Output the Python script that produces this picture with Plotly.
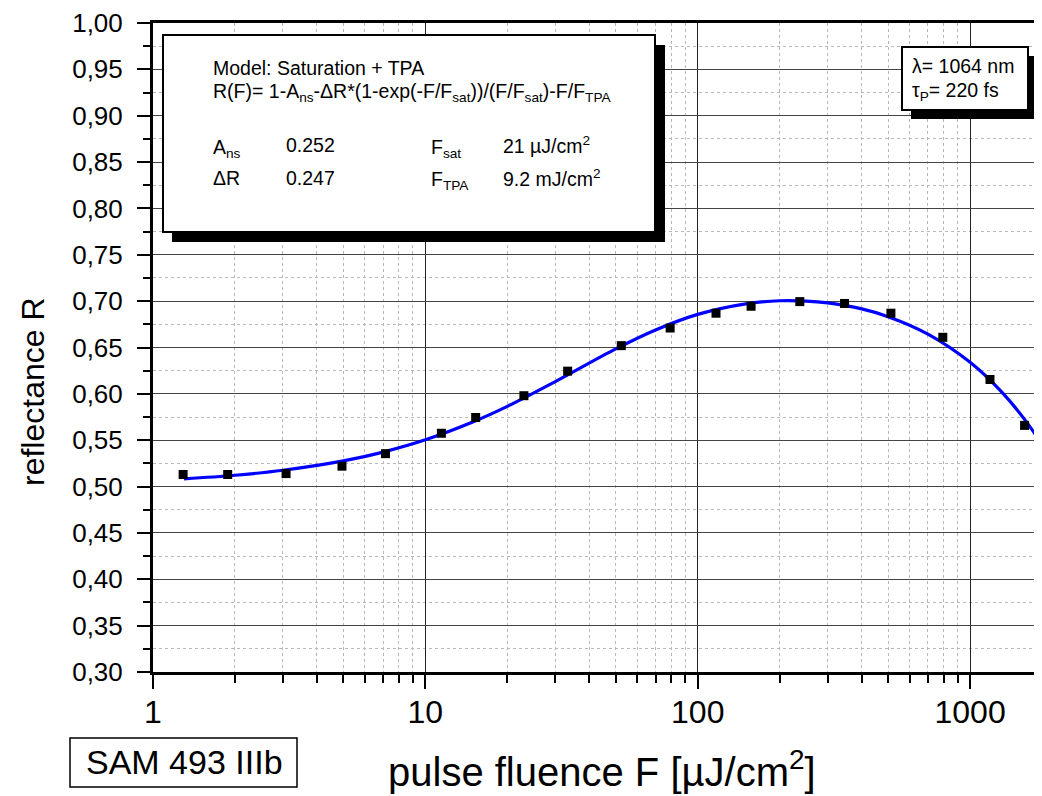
import plotly.graph_objects as go

# ---------------- data ----------------
fluence = [1.29, 1.88, 3.08, 4.94, 7.14, 11.45, 15.3, 23.0, 33.3, 52.4, 79.2,
           116.7, 157, 237, 346, 512, 794, 1183, 1585]
reflectance = [0.513, 0.513, 0.514, 0.522, 0.5355, 0.5575, 0.5745, 0.598, 0.6245,
               0.652, 0.671, 0.687, 0.6945, 0.6995, 0.6975, 0.687, 0.661, 0.6155, 0.566]

fit_fluence = [1.3, 2, 3, 5, 7, 10, 15, 20, 30, 50, 70, 100, 150, 200, 250, 300,
               400, 500, 700, 1000, 1300, 1600, 1900]
fit_reflectance = [0.5083, 0.5122, 0.5176, 0.5277, 0.5372, 0.5504, 0.5699, 0.5865,
                   0.6132, 0.6485, 0.6689, 0.6857, 0.6971, 0.7004, 0.7001, 0.6981,
                   0.6916, 0.6833, 0.6645, 0.6341, 0.6027, 0.5709, 0.5388]

x_tick_vals = [1, 10, 100, 1000]
x_tick_text = ["1", "10", "100", "1000"]
y_tick_vals = [0.30, 0.35, 0.40, 0.45, 0.50, 0.55, 0.60, 0.65, 0.70, 0.75, 0.80,
               0.85, 0.90, 0.95, 1.00]
y_tick_text = ["0,30", "0,35", "0,40", "0,45", "0,50", "0,55", "0,60", "0,65",
               "0,70", "0,75", "0,80", "0,85", "0,90", "0,95", "1,00"]

# ---------------- layout helpers (page pixel coords) ----------------
OFF = 8                      # default page body margin
PAGE_W, PAGE_H = 1042, 796
L, R, T, B = 153, 1042, 23, 672
W, H = PAGE_W - OFF, PAGE_H - OFF


def px(p):
    return (p - L) / (R - L)


def py(p):
    return (B - p) / (B - T)


FONT = "Arial, Liberation Sans, Helvetica, sans-serif"

fig = go.Figure()
fig.add_trace(go.Scatter(
    x=fit_fluence, y=fit_reflectance, mode="lines",
    line=dict(color="#0000ff", width=3.2, shape="spline", smoothing=1.0),
    hoverinfo="skip", showlegend=False))
fig.add_trace(go.Scatter(
    x=fluence, y=reflectance, mode="markers",
    marker=dict(symbol="square", size=9, color="black"),
    showlegend=False))

minor_x = [m * d for d in (1, 10, 100, 1000) for m in range(2, 10)]

fig.update_xaxes(
    type="log", range=[0, 3.264],
    tickvals=x_tick_vals, ticktext=x_tick_text,
    ticks="outside", ticklen=14, tickwidth=2, tickcolor="black",
    ticklabelstandoff=-4,
    showline=True, linewidth=3, linecolor="black", mirror=True,
    showgrid=True, gridcolor="#222222", gridwidth=1,
    tickfont=dict(family=FONT, size=32, color="black"),
    minor=dict(tickvals=minor_x, ticks="outside", ticklen=8, tickwidth=2,
               tickcolor="black", showgrid=True, gridcolor="#b8b8b8",
               griddash="dot", gridwidth=1),
    zeroline=False,
)
fig.update_yaxes(
    range=[0.30, 1.00],
    tickvals=y_tick_vals, ticktext=y_tick_text,
    ticks="outside", ticklen=13, tickwidth=2, tickcolor="black",
    ticklabelstandoff=9,
    showline=True, linewidth=3, linecolor="black",
    showgrid=True, gridcolor="#444444", gridwidth=1,
    tickfont=dict(family=FONT, size=26, color="black"),
    minor=dict(dtick=0.025, ticks="outside", ticklen=7, tickwidth=2,
               tickcolor="black", showgrid=True, gridcolor="#b8b8b8",
               griddash="dot", gridwidth=1),
    zeroline=False,
)

shapes = []


def rect(x0, y0, x1, y1, fill, lw=2):
    shapes.append(dict(type="rect", xref="paper", yref="paper",
                       x0=px(x0), x1=px(x1), y0=py(y1), y1=py(y0),
                       fillcolor=fill, line=dict(color="black", width=lw),
                       layer="above"))


# formula box with shadow
rect(172, 45, 665, 242, "black", 0)
rect(163, 35, 655, 232, "white", 2)
# lambda box with shadow
rect(911, 56, 1038, 119, "black", 0)
rect(902, 47, 1028, 110, "white", 2)
# sample box
rect(70, 738, 297, 787, "white", 1.5)

annotations = []


def text(x, y, s, size, xanchor="left", angle=0):
    annotations.append(dict(xref="paper", yref="paper", x=px(x), y=py(y),
                            text=s, showarrow=False, xanchor=xanchor,
                            yanchor="middle", textangle=angle,
                            font=dict(family=FONT, size=size, color="black")))


fs = 19.5
text(211, 68, "Model: Saturation + TPA", fs)
text(211, 93, "R(F)= 1-A<sub>ns</sub>-ΔR*(1-exp(-F/F<sub>sat</sub>))/(F/F<sub>sat</sub>)-F/F<sub>TPA</sub>", fs)
text(211, 148, "A<sub>ns</sub>", fs)
text(284, 145, "0.252", fs)
text(429, 148, "F<sub>sat</sub>", fs)
text(501, 145, "21 µJ/cm<sup>2</sup>", fs)
text(211, 178, "ΔR", fs)
text(284, 178, "0.247", fs)
text(429, 181, "F<sub>TPA</sub>", fs)
text(501, 178, "9.2 mJ/cm<sup>2</sup>", fs)

text(910, 66, "λ= 1064 nm", 19.5)
text(910, 91, "τ<sub>P</sub>= 220 fs", 19.5)

text(184, 762, "SAM 493 IIIb", 34, xanchor="center")
text(602, 769, "pulse fluence F [µJ/cm<sup>2</sup>]", 40, xanchor="center")
text(33, 392, "reflectance R", 32, xanchor="center", angle=-90)

fig.update_layout(
    width=W, height=H,
    margin=dict(l=L - OFF, r=PAGE_W - R, t=T - OFF, b=PAGE_H - B, pad=0),
    paper_bgcolor="white", plot_bgcolor="white",
    shapes=shapes, annotations=annotations,
    showlegend=False,
)

fig.write_html("out.html")
